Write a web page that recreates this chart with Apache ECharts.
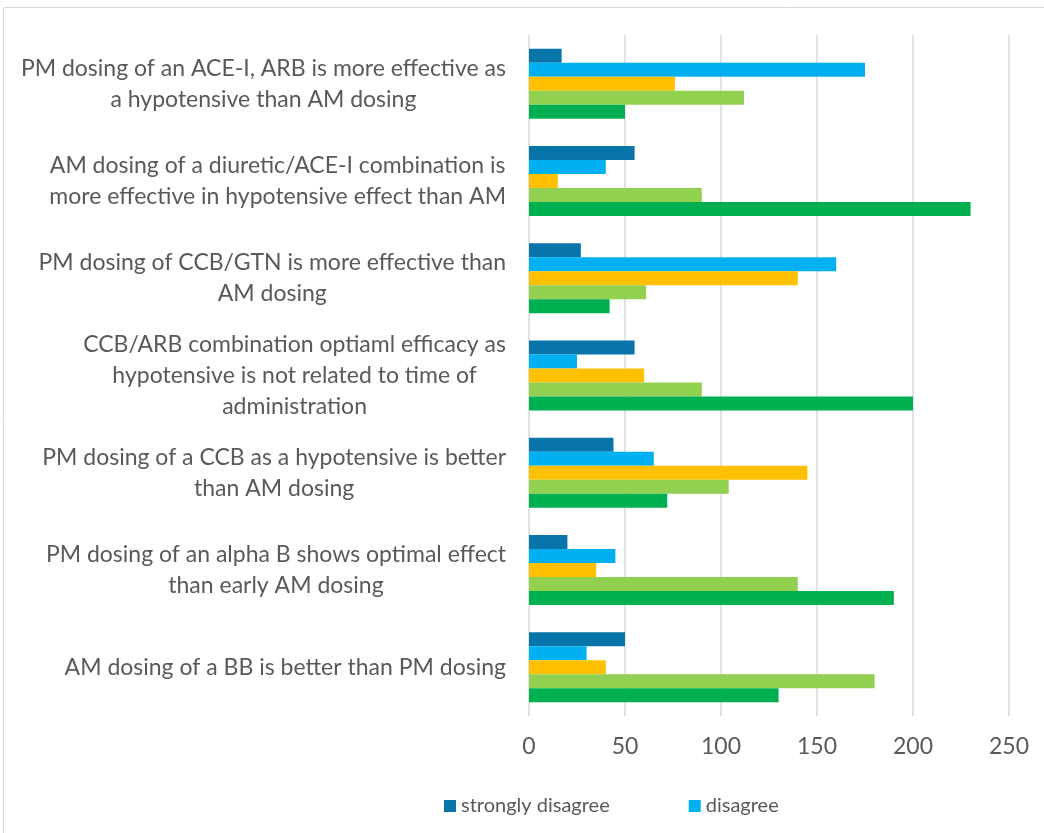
<!DOCTYPE html>
<html>
<head>
<meta charset="utf-8">
<script src="https://cdn.jsdelivr.net/npm/echarts@6/dist/echarts.min.js"></script>
<style>
  html, body { margin: 0; padding: 0; background: #fff; }
  #chart { width: 1044px; height: 833px; }
</style>
</head>
<body>
<div id="chart"></div>
<script>
// statements, top to bottom
const statements = [
  "PM dosing of an ACE-I, ARB is more effective as\na hypotensive than AM dosing",
  "AM dosing of a diuretic/ACE-I combination is\nmore effective in hypotensive effect than AM",
  "PM dosing of CCB/GTN is more effective than\nAM dosing",
  "CCB/ARB combination optiaml efficacy as\nhypotensive is not related to time of\nadministration",
  "PM dosing of a CCB as a hypotensive is better\nthan AM dosing",
  "PM dosing of an alpha B shows optimal effect\nthan early AM dosing",
  "AM dosing of a BB is better than PM dosing"
];

const seriesNames = ["strongly disagree", "disagree", "neutral", "agree", "strongly agree"];
const stronglyDisagree = [17, 55, 27, 55, 44, 20, 50];
const disagree = [175, 40, 160, 25, 65, 45, 30];
const neutral = [76, 15, 140, 60, 145, 35, 40];
const agree = [112, 90, 61, 90, 104, 140, 180];
const stronglyAgree = [50, 230, 42, 200, 72, 190, 130];

const xTicks = [0, 50, 100, 150, 200, 250];

const colors = ["#0775aa", "#00b0f0", "#ffc000", "#92d050", "#00b050"];
const allValues = [stronglyDisagree, disagree, neutral, agree, stronglyAgree];

var myChart = echarts.init(document.getElementById("chart"));

var option = {
  animation: false,
  textStyle: { fontFamily: "Lato", color: "#595959" },
  graphic: [
    {
      type: "rect",
      shape: { x: 3.5, y: 7.5, width: 1100, height: 900 },
      style: { fill: "none", stroke: "#d9d9d9", lineWidth: 1 },
      silent: true
    }
  ],
  legend: {
    data: seriesNames.slice(0, 2),
    left: 439,
    top: 791,
    itemWidth: 12,
    itemHeight: 12,
    itemGap: 79,
    icon: "rect",
    textStyle: { fontSize: 20, color: "#595959", fontFamily: "Lato" }
  },
  grid: {
    left: 529,
    right: 35,
    top: 35,
    bottom: 117,
    containLabel: false
  },
  xAxis: {
    type: "value",
    min: xTicks[0],
    max: xTicks[xTicks.length - 1],
    interval: 50,
    axisLine: { show: false },
    axisTick: { show: false },
    splitLine: { lineStyle: { color: "#d9d9d9", width: 1.5 } },
    axisLabel: { fontSize: 23, color: "#595959", margin: 19, fontFamily: "Lato" }
  },
  yAxis: {
    type: "category",
    inverse: true,
    data: statements,
    axisLine: { show: false },
    axisTick: { show: false },
    axisLabel: {
      margin: 23,
      align: "right",
      fontSize: 23,
      lineHeight: 31,
      color: "#595959",
      fontFamily: "Lato",
      formatter: (value) => value.split("\n").map((l) => "{c|" + l + "}").join("\n"),
      rich: {
        c: { align: "center", fontSize: 23, lineHeight: 31, color: "#595959", fontFamily: "Lato" }
      }
    }
  },
  series: seriesNames.map((name, i) => ({
    name: name,
    type: "bar",
    barWidth: 14,
    barGap: "0%",
    barCategoryGap: "27%",
    itemStyle: { color: colors[i] },
    data: allValues[i]
  }))
};

myChart.setOption(option);
</script>
</body>
</html>
